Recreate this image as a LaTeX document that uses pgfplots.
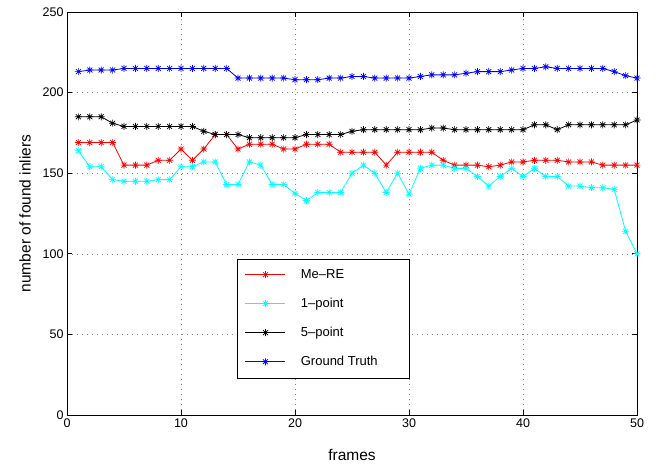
\documentclass[border=0pt]{standalone}
\usepackage{fontspec}
\setmainfont{Liberation Sans}
\usepackage{pgfplots}
\pgfplotsset{compat=1.18}
\definecolor{mcyan}{rgb}{0,1,1}
\definecolor{mred}{rgb}{1,0,0}
\definecolor{mblue}{rgb}{0,0,1}
\pgfdeclareplotmark{mstar}{%
 \pgfpathmoveto{\pgfqpoint{-\pgfplotmarksize}{0pt}}\pgfpathlineto{\pgfqpoint{\pgfplotmarksize}{0pt}}%
 \pgfpathmoveto{\pgfqpoint{0pt}{-\pgfplotmarksize}}\pgfpathlineto{\pgfqpoint{0pt}{\pgfplotmarksize}}%
 \pgfpathmoveto{\pgfqpoint{-0.707\pgfplotmarksize}{-0.707\pgfplotmarksize}}\pgfpathlineto{\pgfqpoint{0.707\pgfplotmarksize}{0.707\pgfplotmarksize}}%
 \pgfpathmoveto{\pgfqpoint{-0.707\pgfplotmarksize}{0.707\pgfplotmarksize}}\pgfpathlineto{\pgfqpoint{0.707\pgfplotmarksize}{-0.707\pgfplotmarksize}}%
 \pgfusepathqstroke}
\begin{document}
\begin{tikzpicture}
\begin{axis}[
  scale only axis, width=570pt, height=403pt,
  xmin=0, xmax=50, ymin=0, ymax=250,
  xtick={0,10,...,50}, ytick={0,50,...,250},
  /pgf/number format/assume math mode=true,
  tick label style={font=\fontsize{12.5}{14}\selectfont},
  label style={font=\fontsize{15.5}{18}\selectfont},
  xlabel={frames}, ylabel={number of found inliers},
  xlabel style={at={(axis description cs:0.5,-0.114)}, anchor=base},
  ylabel style={at={(axis description cs:-0.0737,0.5)}, anchor=center},
  axis line style={line width=0.8pt},
  tick style={black, line width=0.6pt},
  major tick length=5pt,
  grid=major,
  major grid style={gray, line width=0.5pt, dash pattern=on 0.8pt off 4.2pt},
  every axis plot/.append style={line width=0.8pt, mark=mstar, mark size=3.5pt, mark options={solid, line width=0.7pt}},
  legend style={at={(0.298,0.092)}, anchor=south west, font=\fontsize{13}{15}\selectfont, inner xsep=8pt, inner ysep=10.5pt, row sep=18.2pt, column sep=15pt, nodes={inner sep=0pt}, cells={anchor=west}},
  legend image code/.code={%
    \draw[#1] (0pt,0pt) -- (40pt,0pt);
    \draw[#1] plot[only marks] coordinates {(20pt,0pt)};},
]
\addplot[mred, legend image post style={mred, line width=0.8pt}] coordinates {
(1,169)(2,169)(3,169)(4,169)(5,155)(6,155)(7,155)(8,158)(9,158)(10,165)
(11,158)(12,165)(13,174)(14,174)(15,165)(16,168)(17,168)(18,168)(19,165)(20,165)
(21,168)(22,168)(23,168)(24,163)(25,163)(26,163)(27,163)(28,155)(29,163)(30,163)
(31,163)(32,163)(33,158)(34,155)(35,155)(36,155)(37,154)(38,155)(39,157)(40,157)
(41,158)(42,158)(43,158)(44,157)(45,157)(46,157)(47,155)(48,155)(49,155)(50,155)};
\addlegendentry{\makebox[100pt][l]{Me\textendash RE}}
\addplot[mcyan, legend image post style={mcyan, line width=0.8pt}] coordinates {
(1,164)(2,154)(3,154)(4,146)(5,145)(6,145)(7,145)(8,146)(9,146)(10,154)
(11,154)(12,157)(13,157)(14,143)(15,143)(16,157)(17,155)(18,143)(19,143)(20,137.5)
(21,133)(22,138)(23,138)(24,138)(25,150)(26,155)(27,150)(28,138)(29,150)(30,137)
(31,153)(32,155)(33,155)(34,153)(35,153)(36,148)(37,142)(38,148)(39,153)(40,148)
(41,153)(42,148)(43,148)(44,142)(45,142)(46,141)(47,141)(48,140)(49,114)(50,100)};
\addlegendentry{1\textendash point}
\addplot[black, legend image post style={black, line width=0.8pt}] coordinates {
(1,185)(2,185)(3,185)(4,181)(5,179)(6,179)(7,179)(8,179)(9,179)(10,179)
(11,179)(12,176)(13,174)(14,174)(15,174)(16,172)(17,172)(18,172)(19,172)(20,172)
(21,174)(22,174)(23,174)(24,174)(25,176)(26,177)(27,177)(28,177)(29,177)(30,177)
(31,177)(32,178)(33,178)(34,177)(35,177)(36,177)(37,177)(38,177)(39,177)(40,177)
(41,180)(42,180)(43,177)(44,180)(45,180)(46,180)(47,180)(48,180)(49,180)(50,183)};
\addlegendentry{5\textendash point}
\addplot[mblue, legend image post style={mblue, line width=0.8pt}] coordinates {
(1,213)(2,214)(3,214)(4,214)(5,215)(6,215)(7,215)(8,215)(9,215)(10,215)
(11,215)(12,215)(13,215)(14,215)(15,209)(16,209)(17,209)(18,209)(19,209)(20,208)
(21,208)(22,208)(23,209)(24,209)(25,210)(26,210)(27,209)(28,209)(29,209)(30,209)
(31,210)(32,211)(33,211)(34,211)(35,212)(36,213)(37,213)(38,213)(39,214)(40,215)
(41,215)(42,216)(43,215)(44,215)(45,215)(46,215)(47,215)(48,213)(49,210.5)(50,209)};
\addlegendentry{Ground Truth}
\end{axis}
\pgfresetboundingbox
\path[use as bounding box] ([shift={(-67pt,-50pt)}]current axis.south west) rectangle ([shift={(29pt,12pt)}]current axis.north east);
\end{tikzpicture}
\end{document}
